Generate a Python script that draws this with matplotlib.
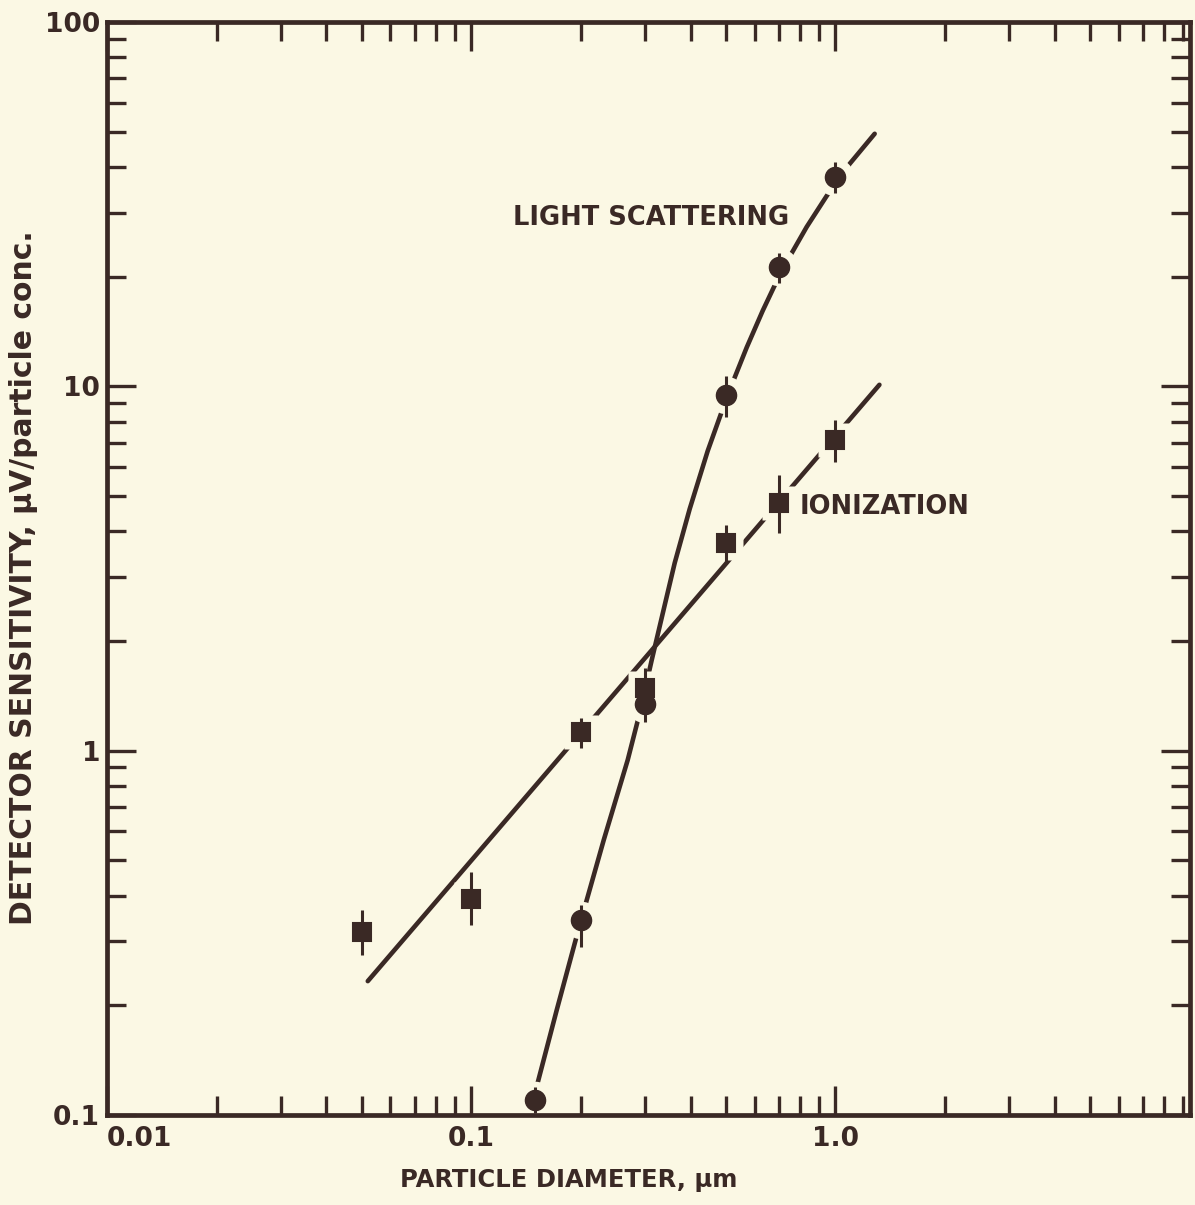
import matplotlib
matplotlib.use("Agg")
import matplotlib.pyplot as plt
from matplotlib.ticker import LogLocator, NullFormatter

INK = "#3a2925"
PAPER = "#fbf8e4"

# Light-scattering detector: measured sensitivity with error range
ls_diameter = [0.15, 0.2, 0.3, 0.5, 0.7, 1.0]
ls_signal = [0.11, 0.343, 1.34, 9.47, 21.3, 37.6]
ls_low = [0.101, 0.289, 1.20, 8.24, 19.2, 34.0]
ls_high = [0.119, 0.377, 1.34, 10.7, 23.2, 41.3]

# Ionization detector: measured sensitivity with error range
ion_diameter = [0.05, 0.1, 0.2, 0.3, 0.5, 0.7, 1.0]
ion_signal = [0.318, 0.392, 1.125, 1.49, 3.72, 4.79, 7.13]
ion_low = [0.275, 0.332, 1.02, 1.49, 3.27, 3.96, 6.20]
ion_high = [0.365, 0.465, 1.23, 1.69, 4.17, 5.71, 8.09]

# Hand-drawn trend curves through the data
ls_curve_d = [0.1484, 0.1717, 0.1985, 0.2311, 0.2689, 0.2901, 0.3130, 0.3398,
              0.3619, 0.3979, 0.4458, 0.5059, 0.5705, 0.6314, 0.7115, 0.8334,
              0.9458, 1.094, 1.281]
ls_curve_s = [0.1113, 0.1942, 0.3323, 0.5687, 0.9430, 1.269, 1.774, 2.511,
              3.275, 4.609, 6.648, 9.472, 12.79, 16.14, 20.77, 27.39,
              33.32, 40.83, 49.36]
ion_curve_d = [0.052, 1.32]
ion_curve_s = [0.233, 10.1]

x_ticks = [0.01, 0.1, 1.0]
x_tick_labels = ["0.01", "0.1", "1.0"]
y_ticks = [0.1, 1, 10, 100]
y_tick_labels = ["0.1", "1", "10", "100"]

plt.rcParams["font.family"] = ["DejaVu Sans"]
plt.rcParams["font.weight"] = "bold"

fig = plt.figure(figsize=(11.95, 12.05), dpi=100, facecolor=PAPER)
ax = fig.add_axes([0.0895, 0.0747, 0.9063, 0.9070], facecolor=PAPER)
ax.set_xscale("log")
ax.set_yscale("log")
ax.set_xlim(0.01, 9.4)
ax.set_ylim(0.1, 100)

# trend lines
ax.plot(ls_curve_d, ls_curve_s, color=INK, lw=3.3, solid_capstyle="round",
        solid_joinstyle="round", zorder=2.0)
ax.plot(ion_curve_d, ion_curve_s, color=INK, lw=3.3, solid_capstyle="round",
        zorder=2.0)

# paper-coloured halos leave the pen gaps around each plotted point
ax.plot(ls_diameter, ls_signal, ls="none", marker="o", ms=27, mfc=PAPER,
        mec="none", zorder=2.1)
ax.plot(ion_diameter, ion_signal, ls="none", marker="s", ms=25, mfc=PAPER,
        mec="none", zorder=2.1)

# error bars
ax.vlines(ls_diameter, ls_low, ls_high, color=INK, lw=2.2, zorder=2.2)
ax.vlines(ion_diameter, ion_low, ion_high, color=INK, lw=2.2, zorder=2.2)

# data points
ax.plot(ls_diameter, ls_signal, ls="none", marker="o", ms=14.5, mfc=INK,
        mec=INK, zorder=2.3)
ax.plot(ion_diameter, ion_signal, ls="none", marker="s", ms=13.5, mfc=INK,
        mec=INK, mew=1.5, zorder=2.3)

# curve labels
ax.text(0.375, 0.8207, "LIGHT SCATTERING", transform=ax.transAxes,
        fontsize=18.5, fontweight="bold", color=INK, ha="left", va="center")
ax.text(0.640, 0.5563, "IONIZATION", transform=ax.transAxes,
        fontsize=18.5, fontweight="bold", color=INK, ha="left", va="center")

# axes frame and ticks
for sp in ax.spines.values():
    sp.set_linewidth(3.4)
    sp.set_color(INK)
    sp.set_zorder(5)

ax.set_xticks(x_ticks, labels=x_tick_labels)
ax.set_yticks(y_ticks, labels=y_tick_labels)
ax.xaxis.set_minor_locator(LogLocator(base=10, subs=range(2, 10)))
ax.yaxis.set_minor_locator(LogLocator(base=10, subs=range(2, 10)))
ax.xaxis.set_minor_formatter(NullFormatter())
ax.yaxis.set_minor_formatter(NullFormatter())
ax.tick_params(which="both", direction="in", top=True, right=True,
               color=INK, labelcolor=INK)
ax.tick_params(which="major", length=21, width=2.4, labelsize=19)
ax.tick_params(which="minor", length=14, width=2.4)
ax.tick_params(axis="x", which="major", pad=8)
ax.tick_params(axis="y", which="major", pad=5)
ax.get_xticklabels()[0].set_horizontalalignment("left")

fig.text(569 / 1195, 1 - 1180 / 1205, "PARTICLE DIAMETER, \u03bcm",
         fontsize=17.5, fontweight="bold", color=INK, ha="center", va="center")
fig.text(24 / 1195, 1 - 578 / 1205,
         "DETECTOR SENSITIVITY, \u03bcV/particle conc.", rotation=90,
         fontsize=21.5, fontweight="bold", color=INK, ha="center", va="center")

fig.savefig("out.png", dpi=100, facecolor=PAPER)
